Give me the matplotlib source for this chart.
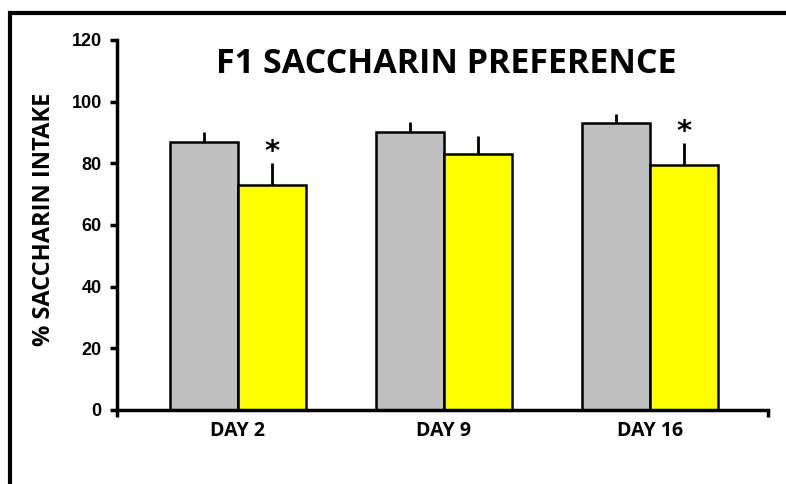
import matplotlib.pyplot as plt
import matplotlib.lines as mlines
import numpy as np

# ---------- data -----------------------------
days = ["DAY 2", "DAY 9", "DAY 16"]
control = [87, 90, 93]
control_err = [3, 3.3, 3]
treated = [73, 83, 79.3]
treated_err = [7, 6, 7.2]
signif = [True, False, True]

x = np.arange(len(days))
w = 0.33

fig = plt.figure(figsize=(7.86, 4.84), dpi=100)
ax = fig.add_axes([0.1489, 0.1529, 0.977 - 0.1489, 0.9174 - 0.1529])

ax.bar(x - w / 2, control, w, color="#c0c0c0", edgecolor="black", linewidth=1.8, zorder=2)
ax.bar(x + w / 2, treated, w, color="#ffff00", edgecolor="black", linewidth=1.8, zorder=2)
ax.errorbar(x - w / 2, control, yerr=[np.zeros(3), control_err], fmt="none",
            ecolor="black", elinewidth=2, capsize=0, zorder=1)
ax.errorbar(x + w / 2, treated, yerr=[np.zeros(3), treated_err], fmt="none",
            ecolor="black", elinewidth=2, capsize=0, zorder=1)

# significance stars above the yellow bars
for i, s in enumerate(signif):
    if s:
        ax.text(x[i] + w / 2, treated[i] + treated_err[i] - 1.0, "*", ha="center", va="bottom",
                fontsize=21, fontweight="bold", family="DejaVu Sans")

ax.set_xlim(-0.587, 2.573)
ax.set_ylim(0, 120)
ax.set_yticks(range(0, 121, 20))
ax.set_xticks(x)
ax.set_xticklabels(days, fontsize=14, fontweight="bold", family="Open Sans")
ax.tick_params(axis="x", length=0, pad=8)
ax.set_xticks([-0.587, 2.573], minor=True)
ax.tick_params(axis="x", which="minor", length=5, width=2.5, direction="out")
ax.tick_params(axis="y", length=5, width=2.5, direction="out", labelsize=13, pad=6)
for lab in ax.get_yticklabels():
    lab.set_fontweight("bold")
    lab.set_family("Liberation Sans")

for sp in ["top", "right"]:
    ax.spines[sp].set_visible(False)
for sp in ["left", "bottom"]:
    ax.spines[sp].set_linewidth(2.5)

ax.set_ylabel("% SACCHARIN INTAKE", fontsize=17, fontweight="bold", family="Open Sans")
ax.yaxis.set_label_coords(-0.094, 0.515)
fig.text(0.568, 0.868, "F1 SACCHARIN PREFERENCE", ha="center", va="center",
         fontsize=24.5, fontweight="bold", family="Open Sans")

# outer frame (left and top edges visible)
fig.add_artist(mlines.Line2D([0.0127, 0.0127], [0, 0.973], color="black", linewidth=3,
                             solid_capstyle="projecting", transform=fig.transFigure))
fig.add_artist(mlines.Line2D([0.0127, 1.01], [0.973, 0.973], color="black", linewidth=3,
                             solid_capstyle="butt", transform=fig.transFigure))

fig.savefig("out.png", dpi=100)
